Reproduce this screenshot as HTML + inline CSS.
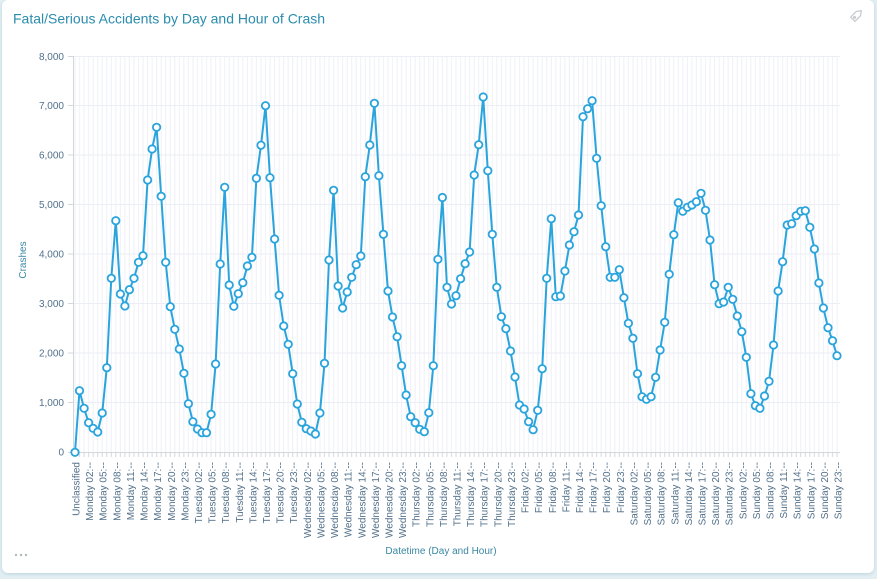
<!DOCTYPE html>
<html><head><meta charset="utf-8"><style>
html,body{margin:0;padding:0;width:877px;height:579px;overflow:hidden;background:#e2eef2;}
.card{position:absolute;left:2px;top:0;width:872px;height:573px;background:#fff;border-radius:6px;box-shadow:0 1px 3px rgba(120,170,190,0.35);}
svg{position:absolute;left:0;top:0;}
</style></head><body>
<div class="card"></div>
<svg width="877" height="579" viewBox="0 0 877 579" xmlns="http://www.w3.org/2000/svg" font-family="Liberation Sans, Arial, sans-serif">
<defs>
<pattern id="vg" x="72.5" y="0" width="4.536" height="20" patternUnits="userSpaceOnUse"><rect x="2" y="0" width="1" height="20" fill="#eff0f8"/></pattern>
<pattern id="bt" x="72.5" y="0" width="4.536" height="20" patternUnits="userSpaceOnUse"><rect x="2" y="0" width="1" height="20" fill="#d4d7dc"/></pattern>
<marker id="dot" markerUnits="userSpaceOnUse" markerWidth="12" markerHeight="12" refX="6" refY="6" overflow="visible"><circle cx="6" cy="6" r="3.7" fill="#fff" stroke="#2aa4dc" stroke-width="1.8"/></marker>
</defs>
<text x="13" y="23.5" font-size="14" fill="#2b8cad">Fatal/Serious Accidents by Day and Hour of Crash</text>
<g transform="translate(857,15) rotate(-45)" fill="none" stroke="#c3c8cc" stroke-width="1.2"><path d="M-6,-3 h8 l4,3 l-4,3 h-8 z"/><circle cx="-3.5" cy="0" r="0.9"/></g>
<rect x="73" y="56" width="767" height="396" fill="url(#vg)"/>
<g stroke="#eceef5" stroke-width="1">
<line x1="73" y1="56.5" x2="840" y2="56.5"/><line x1="73" y1="105.5" x2="840" y2="105.5"/><line x1="73" y1="155" x2="840" y2="155"/><line x1="73" y1="204.5" x2="840" y2="204.5"/><line x1="73" y1="254" x2="840" y2="254"/><line x1="73" y1="303.5" x2="840" y2="303.5"/><line x1="73" y1="353" x2="840" y2="353"/><line x1="73" y1="402.5" x2="840" y2="402.5"/>
</g>
<rect x="73" y="452" width="767" height="5" fill="url(#bt)"/>
<line x1="73" y1="452.5" x2="840" y2="452.5" stroke="#d4d7dc" stroke-width="1"/>
<line x1="73.5" y1="56" x2="73.5" y2="453" stroke="#d4d7dc" stroke-width="1"/>
<g stroke="#d4d7dc" stroke-width="1">
<line x1="68" y1="56.5" x2="73" y2="56.5"/><line x1="68" y1="105.5" x2="73" y2="105.5"/><line x1="68" y1="155" x2="73" y2="155"/><line x1="68" y1="204.5" x2="73" y2="204.5"/><line x1="68" y1="254" x2="73" y2="254"/><line x1="68" y1="303.5" x2="73" y2="303.5"/><line x1="68" y1="353" x2="73" y2="353"/><line x1="68" y1="402.5" x2="73" y2="402.5"/><line x1="68" y1="452.5" x2="73" y2="452.5"/>
</g>
<g font-size="10" fill="#52708a" text-anchor="end">
<text x="64" y="60">8,000</text><text x="64" y="109.2">7,000</text><text x="64" y="158.7">6,000</text><text x="64" y="208.2">5,000</text><text x="64" y="257.7">4,000</text><text x="64" y="307.2">3,000</text><text x="64" y="356.7">2,000</text><text x="64" y="406.2">1,000</text><text x="64" y="455.7">0</text>
</g>
<text transform="translate(26,260) rotate(-90)" font-size="10" fill="#3a87a3" text-anchor="middle">Crashes</text>
<text x="441" y="554" font-size="10" fill="#3a87a3" text-anchor="middle">Datetime (Day and Hour)</text>
<g fill="#b3b8bd"><circle cx="16" cy="555" r="1.2"/><circle cx="21" cy="555" r="1.2"/><circle cx="26" cy="555" r="1.2"/></g>
<polyline fill="none" stroke="#2aa4dc" stroke-width="2" stroke-linejoin="round" marker-start="url(#dot)" marker-mid="url(#dot)" marker-end="url(#dot)" points="75.0,452.3 79.5,390.7 84.1,408.3 88.6,422.7 93.1,428.3 97.7,432 102.2,413 106.8,367.7 111.3,278.3 115.8,220.7 120.4,294 124.9,306 129.4,289.7 134.0,278.3 138.5,262.3 143.0,255.7 147.6,180 152.1,149 156.6,127.3 161.2,196.3 165.7,262.3 170.3,306.7 174.8,329.3 179.3,349 183.9,373.3 188.4,403.7 192.9,421.7 197.5,429 202.0,432.7 206.5,432.7 211.1,414.3 215.6,364 220.2,264 224.7,187.3 229.2,285 233.8,306.3 238.3,293.7 242.8,282.7 247.4,266 251.9,257.3 256.4,178.3 261.0,145.2 265.5,105.7 270.0,177.7 274.6,239 279.1,295.3 283.7,326 288.2,344.3 292.7,373.7 297.3,404 301.8,422.3 306.3,428.7 310.9,431 315.4,434 319.9,413 324.5,363.3 329.0,260 333.6,190.3 338.1,286 342.6,308 347.2,292 351.7,277.3 356.2,264.7 360.8,256 365.3,176.7 369.8,145 374.4,103.3 378.9,175.7 383.4,234.3 388.0,291 392.5,317 397.1,336.7 401.6,365.7 406.1,395 410.7,416.7 415.2,422.7 419.7,429.3 424.3,431.7 428.8,412.7 433.3,365.7 437.9,259.3 442.4,197.5 447.0,287.3 451.5,304 456.0,295.7 460.6,278.7 465.1,263.7 469.6,252 474.2,175 478.7,144.7 483.2,97 487.8,170.7 492.3,234.3 496.8,287.3 501.4,316.7 505.9,328.7 510.5,351 515.0,377 519.5,405 524.1,409 528.6,421.7 533.1,429.7 537.7,410.3 542.2,368.7 546.7,278.3 551.3,218.7 555.8,296.7 560.4,296 564.9,271 569.4,245 574.0,231.7 578.5,215 583.0,116.7 587.6,108.7 592.1,100.7 596.6,158.3 601.2,205.7 605.7,246.7 610.2,277.3 614.8,277.3 619.3,269.7 623.9,297.7 628.4,323.3 632.9,338.3 637.5,373.7 642.0,396.7 646.5,399.3 651.1,396.7 655.6,377.3 660.1,350 664.7,322.3 669.2,274.3 673.8,234.7 678.3,202.7 682.8,211.3 687.4,207.3 691.9,205 696.4,201.7 701.0,193.3 705.5,210.3 710.0,240 714.6,284.7 719.1,303.7 723.6,302 728.2,287.3 732.7,299.3 737.3,316 741.8,331.7 746.3,357.3 750.9,393.7 755.4,405.7 759.9,408.3 764.5,396 769.0,381.3 773.5,345 778.1,291 782.6,261.7 787.2,225 791.7,223.7 796.2,215.7 800.8,211.3 805.3,210.7 809.8,227.3 814.4,249 818.9,283 823.4,308 828.0,327.7 832.5,340.7 837.0,355.7"/>
<g font-size="10" fill="#52708a" text-anchor="end">
<text transform="translate(79.5,462) rotate(-90)">Unclassified</text>
<text transform="translate(93.1,462) rotate(-90)">Monday 02:--</text>
<text transform="translate(106.7,462) rotate(-90)">Monday 05:--</text>
<text transform="translate(120.3,462) rotate(-90)">Monday 08:--</text>
<text transform="translate(133.9,462) rotate(-90)">Monday 11:--</text>
<text transform="translate(147.5,462) rotate(-90)">Monday 14:--</text>
<text transform="translate(161.1,462) rotate(-90)">Monday 17:--</text>
<text transform="translate(174.8,462) rotate(-90)">Monday 20:--</text>
<text transform="translate(188.4,462) rotate(-90)">Monday 23:--</text>
<text transform="translate(202.0,462) rotate(-90)">Tuesday 02:--</text>
<text transform="translate(215.6,462) rotate(-90)">Tuesday 05:--</text>
<text transform="translate(229.2,462) rotate(-90)">Tuesday 08:--</text>
<text transform="translate(242.8,462) rotate(-90)">Tuesday 11:--</text>
<text transform="translate(256.4,462) rotate(-90)">Tuesday 14:--</text>
<text transform="translate(270.0,462) rotate(-90)">Tuesday 17:--</text>
<text transform="translate(283.6,462) rotate(-90)">Tuesday 20:--</text>
<text transform="translate(297.2,462) rotate(-90)">Tuesday 23:--</text>
<text transform="translate(310.8,462) rotate(-90)">Wednesday 02:--</text>
<text transform="translate(324.4,462) rotate(-90)">Wednesday 05:--</text>
<text transform="translate(338.1,462) rotate(-90)">Wednesday 08:--</text>
<text transform="translate(351.7,462) rotate(-90)">Wednesday 11:--</text>
<text transform="translate(365.3,462) rotate(-90)">Wednesday 14:--</text>
<text transform="translate(378.9,462) rotate(-90)">Wednesday 17:--</text>
<text transform="translate(392.5,462) rotate(-90)">Wednesday 20:--</text>
<text transform="translate(406.1,462) rotate(-90)">Wednesday 23:--</text>
<text transform="translate(419.7,462) rotate(-90)">Thursday 02:--</text>
<text transform="translate(433.3,462) rotate(-90)">Thursday 05:--</text>
<text transform="translate(446.9,462) rotate(-90)">Thursday 08:--</text>
<text transform="translate(460.5,462) rotate(-90)">Thursday 11:--</text>
<text transform="translate(474.1,462) rotate(-90)">Thursday 14:--</text>
<text transform="translate(487.7,462) rotate(-90)">Thursday 17:--</text>
<text transform="translate(501.3,462) rotate(-90)">Thursday 20:--</text>
<text transform="translate(515.0,462) rotate(-90)">Thursday 23:--</text>
<text transform="translate(528.6,462) rotate(-90)">Friday 02:--</text>
<text transform="translate(542.2,462) rotate(-90)">Friday 05:--</text>
<text transform="translate(555.8,462) rotate(-90)">Friday 08:--</text>
<text transform="translate(569.4,462) rotate(-90)">Friday 11:--</text>
<text transform="translate(583.0,462) rotate(-90)">Friday 14:--</text>
<text transform="translate(596.6,462) rotate(-90)">Friday 17:--</text>
<text transform="translate(610.2,462) rotate(-90)">Friday 20:--</text>
<text transform="translate(623.8,462) rotate(-90)">Friday 23:--</text>
<text transform="translate(637.4,462) rotate(-90)">Saturday 02:--</text>
<text transform="translate(651.0,462) rotate(-90)">Saturday 05:--</text>
<text transform="translate(664.6,462) rotate(-90)">Saturday 08:--</text>
<text transform="translate(678.3,462) rotate(-90)">Saturday 11:--</text>
<text transform="translate(691.9,462) rotate(-90)">Saturday 14:--</text>
<text transform="translate(705.5,462) rotate(-90)">Saturday 17:--</text>
<text transform="translate(719.1,462) rotate(-90)">Saturday 20:--</text>
<text transform="translate(732.7,462) rotate(-90)">Saturday 23:--</text>
<text transform="translate(746.3,462) rotate(-90)">Sunday 02:--</text>
<text transform="translate(759.9,462) rotate(-90)">Sunday 05:--</text>
<text transform="translate(773.5,462) rotate(-90)">Sunday 08:--</text>
<text transform="translate(787.1,462) rotate(-90)">Sunday 11:--</text>
<text transform="translate(800.7,462) rotate(-90)">Sunday 14:--</text>
<text transform="translate(814.3,462) rotate(-90)">Sunday 17:--</text>
<text transform="translate(827.9,462) rotate(-90)">Sunday 20:--</text>
<text transform="translate(841.5,462) rotate(-90)">Sunday 23:--</text>
</g>
</svg>
</body></html>
